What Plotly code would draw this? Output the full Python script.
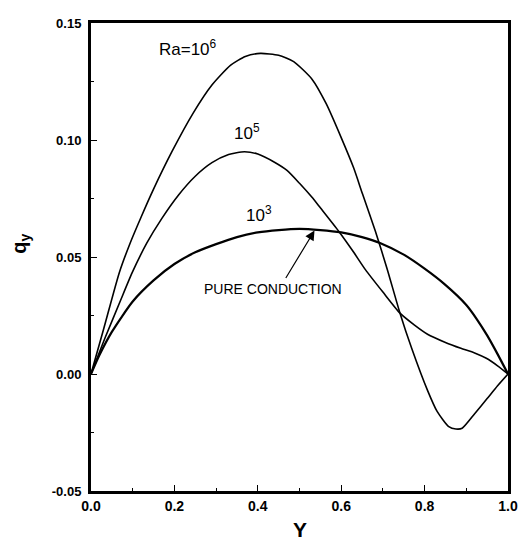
import plotly.graph_objects as go

# Ra = 10^6
x_ra6 = [0, 0.03, 0.068, 0.094, 0.12, 0.15, 0.194, 0.245, 0.29, 0.335, 0.37, 0.406, 0.45, 0.486,
         0.53, 0.564, 0.6, 0.63, 0.651, 0.682, 0.71, 0.741, 0.769, 0.807, 0.83, 0.858, 0.875,
         0.89, 0.92, 0.95, 0.975, 1.0]
q_ra6 = [0, 0.019, 0.0434, 0.056, 0.067, 0.079, 0.095, 0.1115, 0.1235, 0.132, 0.1357, 0.137, 0.1362,
         0.1335, 0.126, 0.1155, 0.101, 0.088, 0.077, 0.061, 0.045, 0.026, 0.011, -0.007, -0.016,
         -0.0225, -0.0235, -0.0232, -0.017, -0.0105, -0.005, 0]

# Ra = 10^5
x_ra5 = [0, 0.035, 0.071, 0.099, 0.134, 0.17, 0.21, 0.25, 0.29, 0.33, 0.368, 0.40, 0.44, 0.47,
         0.5, 0.53, 0.55, 0.594, 0.63, 0.658, 0.7, 0.741, 0.775, 0.807, 0.85, 0.887, 0.92, 0.948,
         0.975, 1.0]
q_ra5 = [0, 0.016, 0.0315, 0.0434, 0.056, 0.0665, 0.0765, 0.0845, 0.0903, 0.0938, 0.095, 0.094, 0.0905,
         0.087, 0.0815, 0.0755, 0.071, 0.061, 0.052, 0.0446, 0.035, 0.026, 0.021, 0.017, 0.0135,
         0.011, 0.009, 0.0067, 0.0035, 0]

# Ra = 10^3 / pure conduction
x_ra3 = [0, 0.02, 0.05, 0.1, 0.15, 0.2, 0.25, 0.3, 0.35, 0.4, 0.45, 0.5, 0.55, 0.6, 0.65,
         0.693, 0.75, 0.8, 0.847, 0.9, 0.925, 0.95, 0.975, 1.0]
q_ra3 = [0, 0.008, 0.018, 0.031, 0.040, 0.047, 0.052, 0.0555, 0.0585, 0.0605, 0.0615, 0.062,
         0.0615, 0.0605, 0.0585, 0.056, 0.051, 0.045, 0.0385, 0.0295, 0.0235, 0.0165, 0.0085, 0]

x_ticks = [0.0, 0.2, 0.4, 0.6, 0.8, 1.0]
y_ticks = [-0.05, 0.00, 0.05, 0.10, 0.15]

fig = go.Figure()
fig.add_trace(go.Scatter(x=x_ra6, y=q_ra6, mode="lines", line=dict(color="black", width=1.6, shape="spline", smoothing=0.6)))
fig.add_trace(go.Scatter(x=x_ra5, y=q_ra5, mode="lines", line=dict(color="black", width=1.6, shape="spline", smoothing=0.6)))
fig.add_trace(go.Scatter(x=x_ra3, y=q_ra3, mode="lines", line=dict(color="black", width=2.2, shape="spline", smoothing=0.6)))

font_fam = "Liberation Sans, Arial, sans-serif"

fig.update_layout(
    width=518, height=533,
    margin=dict(l=83, r=11, t=8, b=50),
    paper_bgcolor="white", plot_bgcolor="white",
    showlegend=False,
    font=dict(family=font_fam, color="black"),
)
fig.update_xaxes(
    range=[0, 1], tickvals=x_ticks, ticktext=[f"{v:.1f}" for v in x_ticks],
    ticks="inside", ticklen=6, tickwidth=1.2, tickcolor="black",
    minor=dict(tickvals=[0.1, 0.3, 0.5, 0.7, 0.9], ticks="inside", ticklen=3, tickcolor="black"),
    showline=True, linewidth=3, linecolor="black", mirror=True,
    showgrid=False, zeroline=False,
    tickfont=dict(size=14, weight="bold", family=font_fam),
)
fig.update_yaxes(
    range=[-0.05, 0.15], tickvals=y_ticks, ticktext=[f"{v:.2f}" for v in y_ticks],
    ticks="inside", ticklen=6, tickwidth=1.2, tickcolor="black",
    minor=dict(tickvals=[-0.025, 0.025, 0.075, 0.125], ticks="inside", ticklen=3, tickcolor="black"),
    showline=True, linewidth=3, linecolor="black", mirror=True,
    showgrid=False, zeroline=False,
    tickfont=dict(size=13, weight="bold", family=font_fam),
    ticklabelstandoff=4,
)

ann = [
    dict(x=0.233, y=0.1395, xref="x", yref="y", text="Ra=10<sup>6</sup>", showarrow=False,
         font=dict(size=17, family=font_fam), xanchor="center", yanchor="middle"),
    dict(x=0.375, y=0.1035, xref="x", yref="y", text="10<sup>5</sup>", showarrow=False,
         font=dict(size=17, family=font_fam), xanchor="center", yanchor="middle"),
    dict(x=0.404, y=0.0685, xref="x", yref="y", text="10<sup>3</sup>", showarrow=False,
         font=dict(size=17, family=font_fam), xanchor="center", yanchor="middle"),
    dict(x=0.437, y=0.0362, xref="x", yref="y", text="PURE CONDUCTION", showarrow=False,
         font=dict(size=14, family=font_fam), xanchor="center", yanchor="middle"),
    dict(x=0.536, y=0.0613, xref="x", yref="y", ax=0.465, ay=0.0404, axref="x", ayref="y",
         text="", showarrow=True, arrowhead=2, arrowsize=1.6, arrowwidth=1.2, arrowcolor="black"),
    dict(x=0.5, y=-0.082, xref="paper", yref="paper", text="<b>Y</b>", showarrow=False,
         font=dict(size=21, family=font_fam), xanchor="center", yanchor="middle"),
    dict(x=-0.168, y=0.528, xref="paper", yref="paper", text="<b>q<sub>y</sub></b>", showarrow=False,
         textangle=-90, font=dict(size=20, family=font_fam), xanchor="center", yanchor="middle"),
]
fig.update_layout(annotations=ann)

fig.write_html("out.html")
